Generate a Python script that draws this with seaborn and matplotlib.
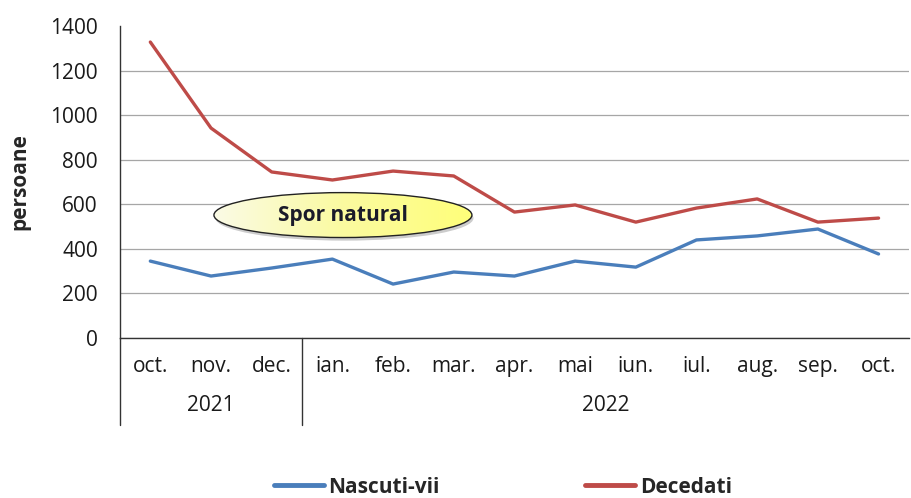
import matplotlib

matplotlib.use("Agg")

import matplotlib.pyplot as plt
import matplotlib.transforms as mtransforms
import numpy as np
import pandas as pd
import seaborn as sns
from matplotlib.colors import LinearSegmentedColormap
from matplotlib.patches import Ellipse

months = ["oct.", "nov.", "dec.", "ian.", "feb.", "mar.", "apr.", "mai", "iun.", "iul.", "aug.", "sep.", "oct."]
years = ["2021", "2022"]
months_per_year = [3, 10]
nascuti_vii = [345, 278, 314, 354, 242, 296, 278, 345, 318, 440, 458, 489, 377]
decedati = [1328, 942, 745, 709, 749, 727, 565, 597, 520, 583, 624, 520, 538]
series_names = ["Nascuti-vii", "Decedati"]
colors = ["#4a7ebb", "#be4b48"]

sns.set_style("white")
plt.rcParams["font.family"] = ["Open Sans", "DejaVu Sans"]

df = pd.DataFrame(
    {
        "pos": np.tile(np.arange(len(months)), 2),
        "value": nascuti_vii + decedati,
        "serie": np.repeat(series_names, len(months)),
    }
)

fig = plt.figure(figsize=(9.11, 4.98), dpi=100)
ax = fig.add_axes([0.1317, 0.3213, 0.866, 0.6265])
sns.lineplot(data=df, x="pos", y="value", hue="serie", palette=colors, linewidth=2.4,
             ax=ax, legend=False, sort=False)

ax.set_xlim(-0.5, len(months) - 0.5)
ax.set_ylim(0, 1400)
ax.set_yticks(np.arange(0, 1401, 200))
ax.tick_params(axis="y", labelsize=15, labelcolor="#1a1a1a", direction="in", length=6, width=1, pad=16)
ax.set_xticks(np.arange(len(months)))
ax.set_xticklabels(months)
ax.tick_params(axis="x", labelsize=15, labelcolor="#1a1a1a", direction="in", length=6, width=1, pad=13)
ax.set_xlabel("")
ax.set_ylabel("persoane", fontsize=15, fontweight="bold", labelpad=14)

ax.yaxis.grid(True, color="#a6a6a6", linewidth=0.9)
ax.get_ygridlines()[-1].set_visible(False)
ax.set_axisbelow(True)
for side in ["top", "right"]:
    ax.spines[side].set_visible(False)
for side in ["left", "bottom"]:
    ax.spines[side].set_color("#333333")
    ax.spines[side].set_linewidth(1.0)

# year row under the month labels
trans = mtransforms.blended_transform_factory(ax.transData, ax.transAxes)
start = -0.5
for year, n in zip(years, months_per_year):
    ax.plot([start, start], [0, -0.28], transform=trans, color="#333333", lw=1.0, clip_on=False)
    ax.text(start + n / 2, -0.215, year, transform=trans, ha="center", va="center",
            fontsize=15, color="#1a1a1a")
    start += n

# "Spor natural" callout
ell = Ellipse((0.2826, 0.394), 0.327, 0.144, transform=ax.transAxes, facecolor="none",
              edgecolor="#222222", linewidth=1.0, zorder=4)
shadow = Ellipse((0.2846, 0.384), 0.327, 0.144, transform=ax.transAxes, facecolor="#cccccc",
                 edgecolor="none", zorder=2.5)
ax.add_patch(shadow)
grad = LinearSegmentedColormap.from_list("yel", ["#fafbe6", "#fbfaa0", "#ffff7a"])
img = ax.imshow(np.linspace(0, 1, 256).reshape(1, -1), cmap=grad, aspect="auto",
                extent=[0.119, 0.446, 0.322, 0.466], transform=ax.transAxes, zorder=3)
img.set_clip_path(ell)
ax.add_patch(ell)
ax.text(0.2826, 0.394, "Spor natural", transform=ax.transAxes, ha="center", va="center",
        fontsize=15, fontweight="bold", color="#1a1a2a", zorder=5)
ax.set_xlim(-0.5, len(months) - 0.5)
ax.set_ylim(0, 1400)

handles = [plt.Line2D([], [], color=c, lw=3.5) for c in colors]
fig.legend(handles, series_names, loc="center", bbox_to_anchor=(0.552, 0.022), ncol=2,
           frameon=False, handlelength=2.4, columnspacing=7.0, handletextpad=0.2,
           prop={"size": 15, "weight": "bold"})

fig.savefig("out.png", dpi=100)
